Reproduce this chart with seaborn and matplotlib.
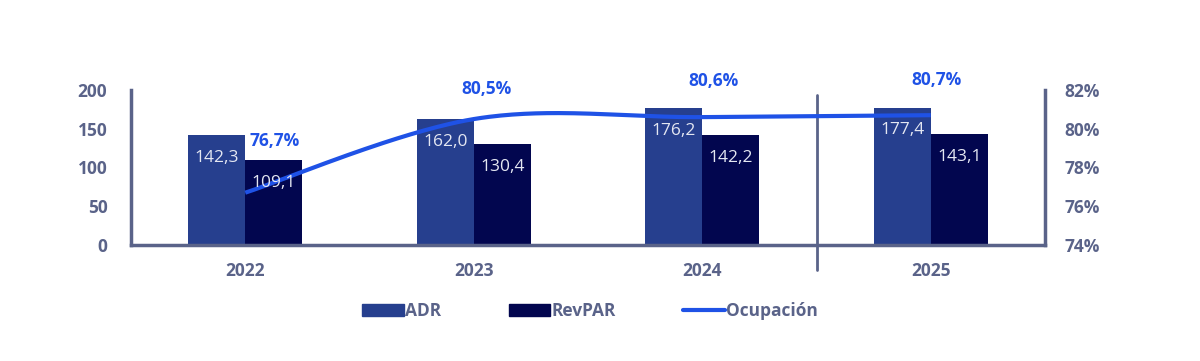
import numpy as np
import pandas as pd
import matplotlib
matplotlib.use("Agg")
import matplotlib.pyplot as plt
import seaborn as sns
from matplotlib.patches import Patch
from matplotlib.lines import Line2D

years = ["2022", "2023", "2024", "2025"]
adr = [142.3, 162.0, 176.2, 177.4]
revpar = [109.1, 130.4, 142.2, 143.1]
ocupacion = [76.7, 80.5, 80.6, 80.7]

c_adr = "#263f8e"
c_rev = "#02064f"
c_line = "#1f52e6"
c_axis = "#5a6389"

sns.set_theme(style="white")
plt.rcParams["font.family"] = ["Open Sans", "DejaVu Sans"]

df = pd.DataFrame({
    "year": years * 2,
    "value": adr + revpar,
    "metric": ["ADR"] * 4 + ["RevPAR"] * 4,
})

fig = plt.figure(figsize=(12, 3.61), dpi=100)
ax = fig.add_axes([131 / 1200, 1 - 245 / 361, (1045 - 131) / 1200, (245 - 90) / 361])
sns.barplot(data=df, x="year", y="value", hue="metric", palette=[c_adr, c_rev],
            width=0.5, saturation=1, linewidth=0, ax=ax, legend=False)
ax.set_xlim(-0.5, 3.5)
ax.set_ylim(0, 200)
ax.set_yticks([0, 50, 100, 150, 200])
ax.set_xlabel("")
ax.set_ylabel("")
for s in ["top", "right"]:
    ax.spines[s].set_visible(False)
for s in ["left", "bottom"]:
    ax.spines[s].set_color(c_axis)
    ax.spines[s].set_linewidth(2.5)
ax.tick_params(axis="both", length=0, colors=c_axis, labelsize=12.5)
ax.tick_params(axis="y", pad=17)
ax.tick_params(axis="x", pad=12)
for t in ax.get_xticklabels() + ax.get_yticklabels():
    t.set_fontweight("bold")

# secondary axis for occupancy
ax2 = ax.twinx()
ax2.set_ylim(74, 82)
ax2.set_yticks([74, 76, 78, 80, 82])
ax2.set_yticklabels([f"{v}%" for v in [74, 76, 78, 80, 82]])
for s in ["top", "left", "bottom"]:
    ax2.spines[s].set_visible(False)
ax2.spines["right"].set_color(c_axis)
ax2.spines["right"].set_linewidth(2.5)
ax2.tick_params(axis="y", length=0, colors=c_axis, labelsize=12.5, pad=14)
for t in ax2.get_yticklabels():
    t.set_fontweight("bold")
ax2.grid(False)

# smoothed line (Excel-style bezier through the points)
xs = np.arange(len(ocupacion), dtype=float)
ys = np.array(ocupacion)
P = np.column_stack([xs, ys])
Pe = np.vstack([P[0], P, P[-1]])
curve = []
t = np.linspace(0, 1, 60)[:, None]
for i in range(len(P) - 1):
    p0, p3 = P[i], P[i + 1]
    c1 = p0 + (Pe[i + 2] - Pe[i]) / 6
    c2 = p3 - (Pe[i + 3] - Pe[i + 1]) / 6
    curve.append((1 - t) ** 3 * p0 + 3 * (1 - t) ** 2 * t * c1 + 3 * (1 - t) * t ** 2 * c2 + t ** 3 * p3)
curve = np.vstack(curve)
ax2.plot(curve[:, 0], curve[:, 1], color=c_line, lw=3, solid_capstyle="butt", zorder=2)

# bar value labels drawn on top of the line
for cont in ax.containers:
    for bar in cont:
        h = bar.get_height()
        ax2.annotate(f"{h:.1f}".replace(".", ","), (bar.get_x() + bar.get_width() / 2, h),
                     xycoords=ax.transData, xytext=(0, -16.5), textcoords="offset points",
                     ha="center", va="center", fontsize=12.5, color="#e4e7f2", zorder=5)

label_offsets = [(21, 37), (9, 22), (8, 26), (4, 25)]
for i, v in enumerate(ocupacion):
    ax2.annotate(f"{v:.1f}%".replace(".", ","), (i, v), xytext=label_offsets[i],
                 textcoords="offset points", ha="center", va="center",
                 fontsize=12.5, fontweight="bold", color=c_line)

# separator between 2024 and 2025
ax.plot([2.5, 2.5], [0.97, -0.16], transform=ax.get_xaxis_transform(),
        color=c_axis, lw=2, clip_on=False)

handles = [Patch(color=c_adr), Patch(color=c_rev), Line2D([], [], color=c_line, lw=3)]
leg = fig.legend(handles, ["ADR", "RevPAR", "Ocupación"], loc="center",
                 bbox_to_anchor=(590 / 1200, 1 - 311 / 361), ncol=3, frameon=False,
                 handlelength=2.4, handleheight=0.75, handletextpad=0.05, columnspacing=3.9,
                 prop={"size": 12.5, "weight": "bold"})
for txt in leg.get_texts():
    txt.set_color(c_axis)

fig.savefig("out.png", dpi=100)
